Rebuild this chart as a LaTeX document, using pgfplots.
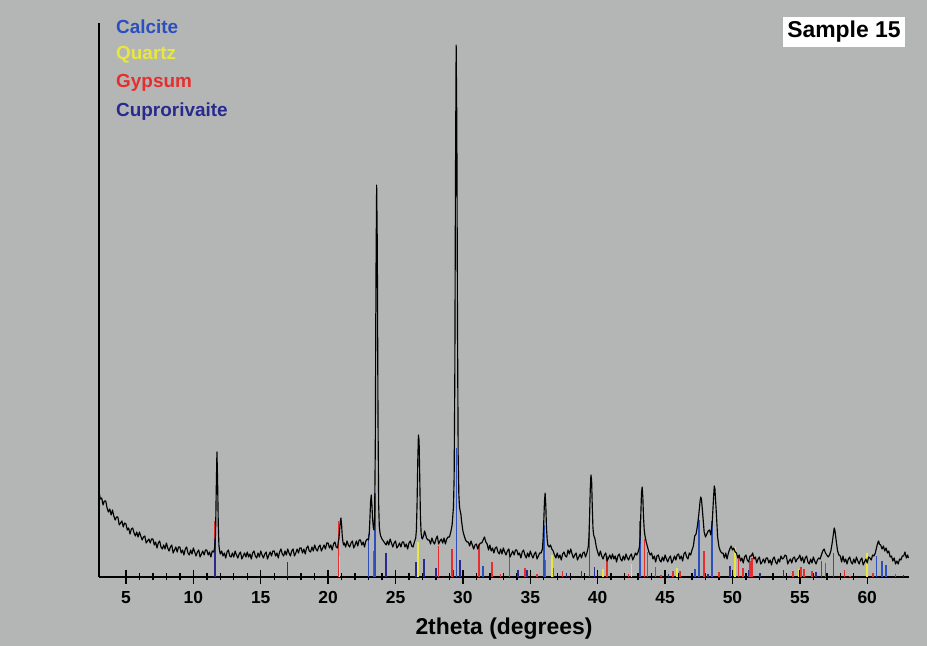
\documentclass[border=0pt]{standalone}
\usepackage{pgfplots}
\pgfplotsset{compat=1.18}
\usepackage{fontspec}
\setmainfont{Liberation Sans}
\definecolor{bgcol}{HTML}{B3B6B5}
\definecolor{calc}{HTML}{2C4FBE}
\definecolor{quar}{HTML}{E8E83C}
\definecolor{gyps}{HTML}{E62E2E}
\definecolor{cupr}{HTML}{2A2A8E}
\begin{document}
\begin{tikzpicture}
\fill[bgcol] (0,0) rectangle (927bp,646bp);
\begin{axis}[
  at={(99bp,69bp)}, anchor=south west,
  scale only axis, width=810bp, height=554bp,
  xmin=3, xmax=63.1, ymin=0, ymax=554,
  axis x line=bottom, axis y line=left,
  axis line style={-, line width=1.2bp, black},
  xtick={5,10,...,60}, minor x tick num=4,
  ytick=\empty,
  tick align=center,
  major tick length=13bp, minor tick length=7bp,
  every tick/.style={black, line width=1.4bp},
  /pgf/number format/assume math mode=true,
  xticklabel style={font=\fontsize{17.5}{20}\selectfont\bfseries, yshift=-4bp},
  xlabel={2theta (degrees)},
  xlabel style={font=\fontsize{23}{26}\selectfont\bfseries, yshift=-8bp},
  clip=false,
]
\addplot[ycomb, gyps, line width=1.6bp, no markers] coordinates {
(11.62,56)(20.78,56)(23.4,26)(28.2,31)(29.2,28)(31.2,33)(32.15,15)(32.8,3)(33.45,28)(34.6,9)(35.5,3)(36.08,17)(36.7,9)(37.4,6)(40.7,21)(42.3,3)(43.47,38)(43.7,25)(44.3,10)(44.7,2)(45.6,6)(46.1,6)(47.9,26)(48.47,19)(49.0,5)(50.45,22)(50.8,9)(51.3,16)(51.46,19)(54.5,6)(55.1,10)(55.3,8)(55.9,6)(56.9,14)(58.3,7)(58.7,1)(60.45,4)(62.1,3)
};
\addplot[ycomb, quar, line width=1.6bp, no markers] coordinates {
(20.85,21)(26.66,35)(36.6,22)(40.4,8)(42.5,13)(45.9,9)(50.2,30)(54.9,8)(60.0,24)
};
\addplot[ycomb, cupr, line width=1.6bp, no markers] coordinates {
(11.62,38)(17.0,15)(24.3,24)(26.5,15)(27.13,18)(28.0,9)(29.3,7)(29.8,17)(34.1,7)(34.75,7)(37.7,4)(38.8,6)(39.76,10)(45.25,3)(48.2,3)(49.8,11)(51.2,7)(52.05,4)(53.8,7)(56.2,5)(62.7,2)
};
\addplot[ycomb, calc, line width=1.6bp, no markers] coordinates {
(23.0,43)(23.5,84)(29.52,129)(31.5,11)(36.03,52)(39.4,57)(43.15,56)(47.2,8)(47.5,57)(48.5,56)(56.6,16)(57.5,24)(60.7,21)(61.1,16)(61.4,12)
};
\addplot[black, line width=1.15bp, no markers, line join=round] coordinates {
(3.0,85)(3.1,78)(3.2,79)(3.3,72)(3.4,76)(3.5,76)(3.6,69)(3.7,65)(3.8,68)(3.9,62)(4.0,67)(4.1,61)(4.2,57)(4.3,60)(4.4,60)(4.5,52)(4.6,54)(4.7,56)(4.8,50)(4.9,54)
(5.0,53)(5.1,47)(5.2,49)(5.3,43)(5.4,48)(5.5,49)(5.6,44)(5.7,41)(5.8,45)(5.9,40)(6.0,45)(6.1,41)(6.2,37)(6.3,40)(6.4,41)(6.5,34)(6.6,36)(6.7,38)(6.8,34)(6.9,38)
(7.0,38)(7.1,32)(7.2,35)(7.3,29)(7.4,34)(7.5,36)(7.6,30)(7.7,28)(7.8,32)(7.9,28)(8.0,34)(8.1,29)(8.2,26)(8.3,30)(8.4,32)(8.5,24)(8.6,27)(8.7,30)(8.8,25)(8.9,30)
(9.0,30)(9.1,24)(9.2,27)(9.3,22)(9.4,28)(9.5,30)(9.6,24)(9.7,22)(9.8,27)(9.9,23)(10.0,29)(10.1,25)(10.2,21)(10.3,25)(10.4,27)(10.5,20)(10.6,23)(10.7,26)(10.8,22)(10.9,27)
(11.0,27)(11.1,22)(11.2,25)(11.3,20)(11.4,26)(11.5,25)(11.55,27)(11.6,31)(11.65,44)(11.7,88)(11.75,125)(11.8,96)(11.85,52)(11.9,31)(11.95,26)(12.0,23)(12.1,26)(12.2,21)(12.3,24)(12.4,19)(12.5,25)(12.6,27)(12.7,21)(12.8,20)(12.9,24)
(13.0,20)(13.1,26)(13.2,22)(13.3,19)(13.4,23)(13.5,25)(13.6,18)(13.7,21)(13.8,24)(13.9,20)(14.0,25)(14.1,20)(14.2,23)(14.3,18)(14.4,24)(14.5,26)(14.6,21)(14.7,19)(14.8,24)(14.9,20)
(15.0,26)(15.1,22)(15.2,19)(15.3,23)(15.4,25)(15.5,18)(15.6,22)(15.7,25)(15.8,21)(15.9,26)(16.0,26)(16.1,21)(16.2,24)(16.3,19)(16.4,25)(16.5,28)(16.6,23)(16.7,21)(16.8,26)(16.9,22)
(17.0,28)(17.1,24)(17.2,21)(17.3,26)(17.4,28)(17.5,21)(17.6,24)(17.7,28)(17.8,24)(17.9,29)(18.0,29)(18.1,24)(18.2,28)(18.3,23)(18.4,29)(18.5,31)(18.6,26)(18.7,25)(18.8,30)(18.9,26)
(19.0,32)(19.1,28)(19.2,26)(19.3,30)(19.4,32)(19.5,26)(19.6,29)(19.7,32)(19.8,28)(19.9,34)(20.0,34)(20.1,29)(20.2,32)(20.3,27)(20.4,33)(20.5,35)(20.6,30)(20.7,29)(20.75,35)(20.8,38)(20.85,46)(20.9,55)(20.95,59)(21.0,52)(21.05,41)(21.1,35)(21.15,32)(21.2,34)(21.3,30)(21.4,36)(21.5,32)(21.6,30)(21.7,34)(21.8,36)(21.9,29)
(22.0,32)(22.1,36)(22.2,31)(22.3,37)(22.4,37)(22.5,32)(22.6,35)(22.7,30)(22.8,36)(22.9,38)(23.0,37)(23.05,43)(23.1,58)(23.15,75)(23.2,82)(23.25,72)(23.3,58)(23.35,50)(23.4,47)(23.45,60)(23.5,130)(23.55,300)(23.6,392)(23.65,330)(23.7,160)(23.75,72)(23.8,50)(23.85,44)(23.9,41)(24.0,38)(24.1,36)(24.2,34)(24.3,32)(24.4,36)(24.5,32)(24.6,38)(24.7,34)(24.8,30)(24.9,34)
(25.0,36)(25.1,29)(25.2,31)(25.3,34)(25.4,30)(25.5,35)(25.6,35)(25.7,30)(25.8,33)(25.9,28)(26.0,34)(26.1,36)(26.2,31)(26.3,30)(26.4,35)(26.5,39)(26.55,47)(26.6,74)(26.65,115)(26.7,142)(26.75,136)(26.8,98)(26.85,60)(26.9,44)(26.95,39)(27.0,38)(27.1,42)(27.15,46)(27.2,44)(27.3,39)(27.4,37)(27.5,37)(27.6,33)(27.7,39)(27.8,35)(27.9,33)
(28.0,38)(28.1,41)(28.2,33)(28.3,36)(28.4,38)(28.5,34)(28.6,39)(28.7,33)(28.8,38)(28.9,40)(29.0,40)(29.1,45)(29.2,52)(29.3,70)(29.35,100)(29.4,200)(29.45,400)(29.5,532)(29.55,450)(29.6,250)(29.65,120)(29.7,82)(29.75,70)(29.8,66)(29.85,63)(29.9,56)(30.0,46)(30.1,41)(30.2,37)(30.3,35)(30.4,35)(30.5,31)(30.6,36)(30.7,32)(30.8,28)(30.9,32)
(31.0,33)(31.1,28)(31.2,32)(31.3,34)(31.4,34)(31.5,37)(31.6,40)(31.7,35)(31.8,33)(31.9,27)(32.0,32)(32.1,26)(32.2,29)(32.3,24)(32.4,29)(32.5,30)(32.6,25)(32.7,23)(32.8,28)(32.9,23)
(33.0,29)(33.1,25)(33.2,22)(33.3,26)(33.4,28)(33.5,20)(33.6,23)(33.7,26)(33.8,22)(33.9,27)(34.0,27)(34.1,22)(34.2,24)(34.3,19)(34.4,25)(34.5,27)(34.6,22)(34.7,19)(34.8,24)(34.9,20)
(35.0,26)(35.1,22)(35.2,19)(35.3,23)(35.4,25)(35.5,18)(35.6,21)(35.7,24)(35.8,24)(35.9,28)(35.95,38)(36.0,55)(36.05,75)(36.1,84)(36.15,72)(36.2,50)(36.25,38)(36.3,32)(36.4,30)(36.5,32)(36.6,28)(36.7,26)(36.8,22)(36.9,19)
(37.0,24)(37.1,19)(37.2,22)(37.3,17)(37.4,23)(37.5,25)(37.6,21)(37.7,20)(37.8,27)(37.9,23)(38.0,28)(38.1,23)(38.2,19)(38.3,22)(38.4,24)(38.5,17)(38.6,20)(38.7,23)(38.8,19)(38.9,24)
(39.0,25)(39.1,20)(39.2,24)(39.3,30)(39.35,40)(39.4,60)(39.45,88)(39.5,102)(39.55,97)(39.6,70)(39.65,49)(39.7,42)(39.75,40)(39.8,38)(39.9,30)(40.0,25)(40.1,21)(40.2,26)(40.3,21)(40.4,18)(40.5,22)(40.6,24)(40.7,16)(40.8,19)(40.9,22)
(41.0,18)(41.1,23)(41.2,18)(41.3,21)(41.4,15)(41.5,21)(41.6,23)(41.7,18)(41.8,16)(41.9,21)(42.0,17)(42.1,23)(42.2,19)(42.3,17)(42.4,21)(42.5,23)(42.6,17)(42.7,20)(42.8,24)(42.9,22)
(43.0,25)(43.1,30)(43.15,40)(43.2,62)(43.25,84)(43.3,90)(43.35,80)(43.4,60)(43.45,48)(43.5,42)(43.6,35)(43.7,30)(43.8,25)(43.9,22)(44.0,24)(44.1,18)(44.2,21)(44.3,15)(44.4,21)(44.5,22)(44.6,17)(44.7,15)(44.8,20)(44.9,16)
(45.0,22)(45.1,18)(45.2,15)(45.3,19)(45.4,21)(45.5,14)(45.6,17)(45.7,21)(45.8,17)(45.9,22)(46.0,23)(46.1,18)(46.2,21)(46.3,16)(46.4,23)(46.5,25)(46.6,20)(46.7,18)(46.8,24)(46.9,22)
(47.0,27)(47.1,31)(47.2,41)(47.3,43)(47.4,51)(47.5,62)(47.6,76)(47.65,80)(47.7,78)(47.8,62)(47.9,45)(48.0,40)(48.1,43)(48.2,46)(48.3,47)(48.4,42)(48.5,55)(48.6,80)(48.65,91)(48.7,88)(48.8,65)(48.9,40)(49.0,30)(49.1,26)(49.2,24)(49.3,24)(49.4,19)(49.5,24)(49.6,18)(49.7,24)(49.8,28)(49.9,31)
(50.0,27)(50.1,29)(50.2,25)(50.3,24)(50.4,19)(50.5,22)(50.6,16)(50.7,19)(50.8,14)(50.9,20)(51.0,22)(51.1,17)(51.2,15)(51.3,21)(51.4,21)(51.5,24)(51.6,18)(51.7,20)(51.8,14)(51.9,18)
(52.0,20)(52.1,13)(52.2,15)(52.3,18)(52.4,14)(52.5,19)(52.6,19)(52.7,14)(52.8,17)(52.9,12)(53.0,18)(53.1,20)(53.2,15)(53.3,13)(53.4,18)(53.5,15)(53.6,21)(53.7,18)(53.8,19)(53.9,22)
(54.0,21)(54.1,13)(54.2,16)(54.3,18)(54.4,14)(54.5,19)(54.6,20)(54.7,15)(54.8,18)(54.9,19)(55.0,22)(55.1,16)(55.2,20)(55.3,14)(55.4,19)(55.5,21)(55.6,15)(55.7,13)(55.8,18)(55.9,14)
(56.0,20)(56.1,16)(56.2,13)(56.3,17)(56.4,19)(56.5,18)(56.6,22)(56.7,26)(56.8,28)(56.9,24)(57.0,22)(57.1,20)(57.2,22)(57.3,26)(57.4,34)(57.5,44)(57.55,49)(57.6,47)(57.7,36)(57.8,26)(57.9,22)
(58.0,21)(58.1,15)(58.2,21)(58.3,15)(58.4,18)(58.5,13)(58.6,18)(58.7,20)(58.8,15)(58.9,13)(59.0,18)(59.1,14)(59.2,20)(59.3,16)(59.4,13)(59.5,17)(59.6,19)(59.7,12)(59.8,15)(59.9,18)
(60.0,14)(60.1,20)(60.2,19)(60.3,17)(60.4,22)(60.5,21)(60.6,24)(60.7,30)(60.8,35)(60.85,36)(60.9,33)(61.0,32)(61.1,28)(61.2,31)(61.3,26)(61.4,29)(61.5,24)(61.6,26)(61.7,20)(61.8,21)(61.9,16)
(62.0,19)(62.1,13)(62.2,16)(62.3,13)(62.4,18)(62.5,17)(62.6,21)(62.7,21)(62.8,25)(62.9,19)(63.0,22)(63.05,19)
};
\end{axis}
\begin{scope}[every node/.style={anchor=west, font=\fontsize{19}{22}\selectfont\bfseries, inner sep=0pt}]
\node[text=calc] at (116bp,619bp) {Calcite};
\node[text=quar] at (116bp,591bp) {Quartz};
\node[text=gyps] at (116bp,563bp) {Gypsum};
\node[text=cupr] at (116bp,534bp) {Cuprorivaite};
\end{scope}
\node[fill=white, inner sep=0pt, minimum width=122bp, minimum height=29.5bp, font=\fontsize{23}{26}\selectfont\bfseries] at (844bp,614bp) {Sample 15};
\end{tikzpicture}
\end{document}
